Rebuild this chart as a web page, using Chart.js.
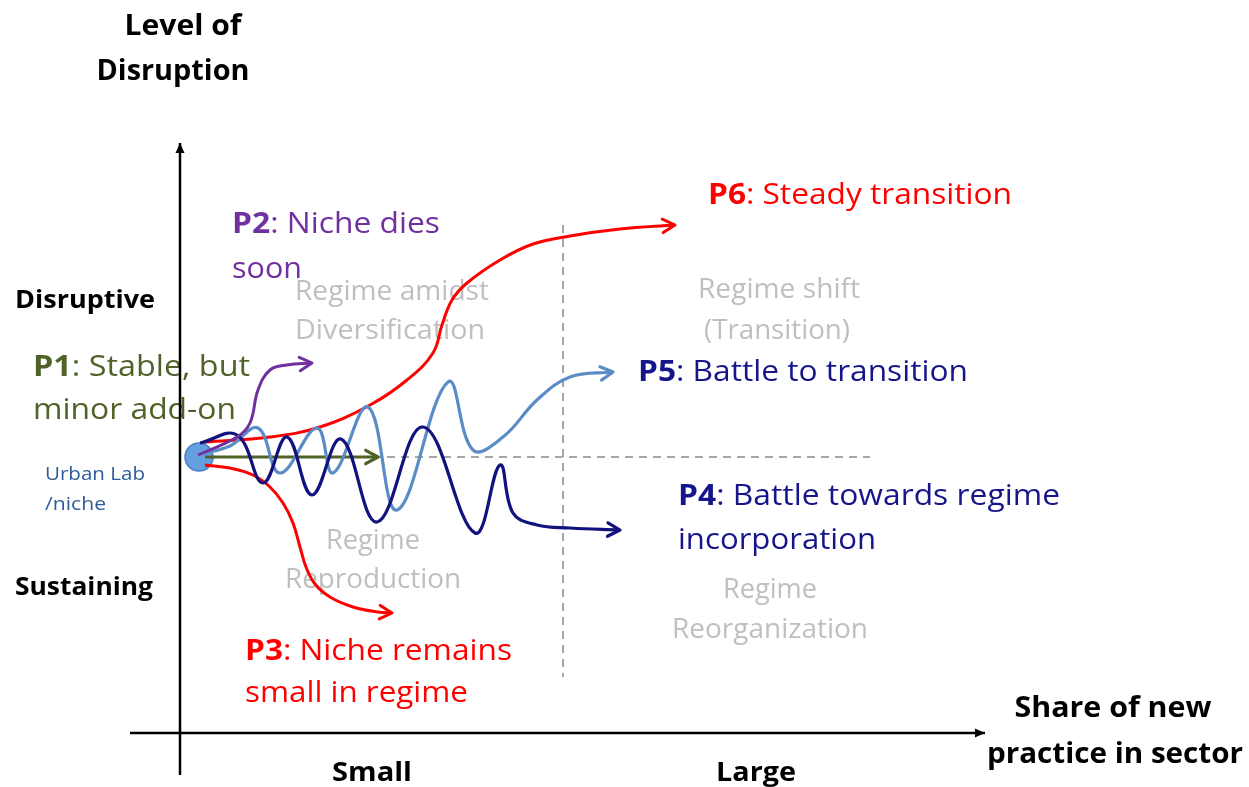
<!DOCTYPE html>
<html>
<head>
<meta charset="utf-8">
<script src="https://cdn.jsdelivr.net/npm/chart.js@4.4.0/dist/chart.umd.min.js"></script>
<style>
html, body { margin: 0; padding: 0; background: #fff; }
#wrap { width: 1249px; height: 787px; position: relative; }
</style>
</head>
<body>
<div id="wrap"><canvas id="pathwayChart"></canvas></div>
<script>
// diagram units: x = share of new practice, y = level of disruption, origin where the axes cross
const nichePoint = [{x: 19, y: 276}];
const axisY = [{x: 0, y: -42}, {x: 0, y: 590}];
const axisX = [{x: -50, y: 0}, {x: 805, y: 0}];
const splitH = [{x: 25, y: 276}, {x: 690, y: 276}];
const splitV = [{x: 383, y: 508}, {x: 383, y: 56}];

const p1Stable = [{x: 25, y: 276}, {x: 198, y: 276}];
const p2Dies = [{x: 18, y: 278}, {x: 57, y: 296}, {x: 70, y: 310}, {x: 78, y: 343}, {x: 90, y: 363}, {x: 107, y: 368}, {x: 132, y: 370}];
const p3Small = [{x: 25, y: 268}, {x: 50, y: 265}, {x: 73, y: 258}, {x: 90, y: 246}, {x: 103, y: 230}, {x: 113, y: 210}, {x: 120, y: 186}, {x: 126, y: 166}, {x: 135, y: 149}, {x: 150, y: 136}, {x: 173, y: 126}, {x: 198, y: 121}, {x: 212, y: 120}];
const p4Incorp = [{x: 20, y: 290}, {x: 57, y: 298}, {x: 83, y: 250}, {x: 107, y: 296}, {x: 132, y: 238}, {x: 161, y: 294}, {x: 197, y: 211}, {x: 243, y: 306}, {x: 295, y: 200}, {x: 320, y: 268}, {x: 333, y: 220}, {x: 357, y: 208}, {x: 390, y: 205}, {x: 440, y: 203}];
const p5Battle = [{x: 20, y: 279}, {x: 50, y: 287}, {x: 78, y: 305}, {x: 100, y: 260}, {x: 137, y: 305}, {x: 153, y: 260}, {x: 188, y: 326}, {x: 217, y: 223}, {x: 268, y: 351}, {x: 293, y: 283}, {x: 323, y: 296}, {x: 357, y: 333}, {x: 390, y: 356}, {x: 433, y: 361}];
const p6Steady = [{x: 25, y: 291}, {x: 90, y: 296}, {x: 140, y: 306}, {x: 190, y: 328}, {x: 227, y: 353}, {x: 253, y: 380}, {x: 262, y: 408}, {x: 272, y: 433}, {x: 287, y: 450}, {x: 320, y: 473}, {x: 353, y: 489}, {x: 390, y: 497}, {x: 440, y: 504}, {x: 495, y: 508}];

// text: [x, y, align, width, size, color, parts]
const labels = [
  [3, 709, 'center', 117, 28, '#000', [['Level of', 1]]],
  [-7, 664, 'center', 153, 28, '#000', [['Disruption', 1]]],
  [-165, 435, 'left', 140, 25, '#000', [['Disruptive', 1]]],
  [-165, 148, 'left', 138, 25, '#000', [['Sustaining', 1]]],
  [-147, 368, 'left', 217, 29, '#4f6228', [['P1', 1], [': Stable, but', 0]]],
  [-147, 325, 'left', 203, 29, '#4f6228', [['minor add-on', 0]]],
  [-135, 261, 'left', 100, 18, '#2f5c9c', [['Urban Lab', 0]]],
  [-135, 231, 'left', 61, 18, '#2f5c9c', [['/niche', 0]]],
  [52, 511, 'left', 208, 29, '#7030a0', [['P2', 1], [': Niche dies', 0]]],
  [52, 466, 'left', 70, 29, '#7030a0', [['soon', 0]]],
  [212, 444, 'center', 194, 27, '#bfbfbf', [['Regime amidst', 0]]],
  [210, 405, 'center', 190, 27, '#bfbfbf', [['Diversification', 0]]],
  [528, 540, 'left', 304, 29, '#ff0000', [['P6', 1], [': Steady transition', 0]]],
  [599, 446, 'center', 162, 27, '#bfbfbf', [['Regime shift', 0]]],
  [597, 405, 'center', 146, 27, '#bfbfbf', [['(Transition)', 0]]],
  [458, 363, 'left', 330, 29, '#16168a', [['P5', 1], [': Battle to transition', 0]]],
  [498, 239, 'left', 382, 29, '#16168a', [['P4', 1], [': Battle towards regime', 0]]],
  [498, 195, 'left', 198, 29, '#16168a', [['incorporation', 0]]],
  [590, 146, 'center', 94, 27, '#bfbfbf', [['Regime', 0]]],
  [590, 106, 'center', 196, 27, '#bfbfbf', [['Reorganization', 0]]],
  [193, 195, 'center', 94, 27, '#bfbfbf', [['Regime', 0]]],
  [193, 156, 'center', 176, 27, '#bfbfbf', [['Reproduction', 0]]],
  [65, 84, 'left', 267, 29, '#ff0000', [['P3', 1], [': Niche remains', 0]]],
  [65, 42, 'left', 223, 29, '#ff0000', [['small in regime', 0]]],
  [192, -37, 'center', 80, 27, '#000', [['Small', 1]]],
  [576, -37, 'center', 80, 27, '#000', [['Large', 1]]],
  [933, 27, 'center', 197, 28, '#000', [['Share of new', 1]]],
  [935, -19, 'center', 256, 28, '#000', [['practice in sector', 1]]]
];

const diagramText = {
  id: 'diagramText',
  beforeDatasetsDraw(chart) {
    const ctx = chart.ctx;
    const sx = chart.scales.x, sy = chart.scales.y;
    labels.forEach(([x, y, align, w, size, color, parts]) => {
      let natural = 0;
      parts.forEach(([t, b]) => {
        ctx.font = (b ? 'bold ' : '') + size + 'px "Open Sans"';
        natural += ctx.measureText(t).width;
      });
      const f = w / natural;
      let px = sx.getPixelForValue(x);
      if (align === 'center') px -= w / 2;
      const py = sy.getPixelForValue(y) + 3;
      ctx.save();
      ctx.translate(px, py);
      ctx.scale(f, 1);
      ctx.fillStyle = color;
      ctx.textBaseline = 'middle';
      ctx.textAlign = 'left';
      let cx = 0;
      parts.forEach(([t, b]) => {
        ctx.font = (b ? 'bold ' : '') + size + 'px "Open Sans"';
        ctx.fillText(t, cx, 0);
        cx += ctx.measureText(t).width;
      });
      ctx.restore();
    });
  }
};

const arrowHeads = {
  id: 'arrowHeads',
  afterDatasetsDraw(chart) {
    const ctx = chart.ctx;
    chart.data.datasets.forEach((ds, i) => {
      if (!ds.arrow) return;
      const pts = chart.getDatasetMeta(i).data;
      const a = pts[pts.length - 2], b = pts[pts.length - 1];
      const ang = Math.atan2(b.y - a.y, b.x - a.x);
      const len = ds.arrow === 'fill' ? 11 : 14;
      const spread = ds.arrow === 'fill' ? 0.42 : 0.5;
      ctx.save();
      ctx.strokeStyle = ds.borderColor;
      ctx.fillStyle = ds.borderColor;
      ctx.lineWidth = ds.borderWidth;
      ctx.lineCap = 'round';
      ctx.lineJoin = 'round';
      ctx.beginPath();
      ctx.moveTo(b.x - len * Math.cos(ang - spread), b.y - len * Math.sin(ang - spread));
      ctx.lineTo(b.x, b.y);
      ctx.lineTo(b.x - len * Math.cos(ang + spread), b.y - len * Math.sin(ang + spread));
      if (ds.arrow === 'fill') { ctx.closePath(); ctx.fill(); } else { ctx.stroke(); }
      ctx.restore();
    });
  }
};

function path(data, color, width, extra) {
  return Object.assign({
    data: data,
    borderColor: color,
    borderWidth: width,
    pointRadius: 0,
    tension: 0.4,
    fill: false,
    order: 1
  }, extra || {});
}

const ctx = document.getElementById('pathwayChart').getContext('2d');
const pathwayChart = new Chart(ctx, {
  type: 'line',
  data: {
    datasets: [
      path(p2Dies, '#7030a0', 3, {arrow: true}),
      path(p4Incorp, '#12127f', 3.2, {arrow: true}),
      path(p5Battle, '#5b8cc6', 3.2, {arrow: true}),
      path(p6Steady, '#ff0000', 3, {arrow: true}),
      path(p3Small, '#ff0000', 3, {arrow: true}),
      path(p1Stable, '#4f6228', 3.2, {arrow: true, tension: 0}),
      path(axisY, '#000', 2.5, {arrow: 'fill', tension: 0, order: 3}),
      path(axisX, '#000', 2.5, {arrow: 'fill', tension: 0, order: 3}),
      path(splitH, '#a6a6a6', 2, {borderDash: [8, 6], tension: 0, order: 4}),
      path(splitV, '#a6a6a6', 2, {borderDash: [8, 6], tension: 0, order: 4}),
      {
        data: nichePoint,
        showLine: false,
        pointRadius: 14,
        pointBackgroundColor: '#64a0e0',
        pointBorderColor: '#4a80c4',
        pointBorderWidth: 1.5,
        order: 5
      }
    ]
  },
  options: {
    responsive: true,
    maintainAspectRatio: false,
    animation: false,
    layout: { padding: 0, autoPadding: false },
    plugins: { legend: { display: false }, tooltip: { enabled: false } },
    scales: {
      x: { type: 'linear', min: -180, max: 1069, display: false },
      y: { type: 'linear', min: -54, max: 733, display: false }
    }
  },
  plugins: [diagramText, arrowHeads]
});
</script>
</body>
</html>
